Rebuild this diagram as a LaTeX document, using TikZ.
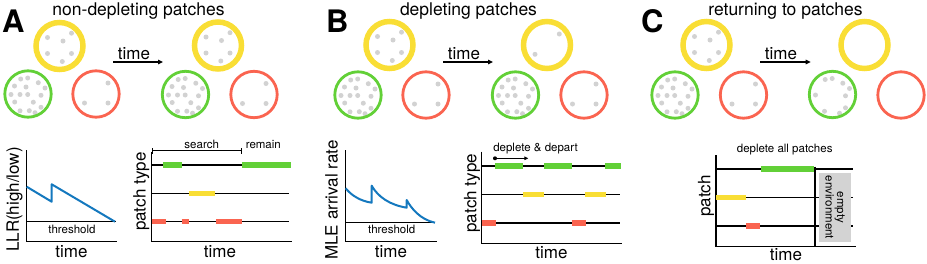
\documentclass[tikz,border=0pt]{standalone}
\usepackage{fontspec}
\setmainfont{TeX Gyre Heros}
\usetikzlibrary{arrows.meta}
\definecolor{cy}{HTML}{F9DE35}
\definecolor{cg}{HTML}{62D037}
\definecolor{cr}{HTML}{FA6450}
\definecolor{cb}{HTML}{1478BE}
\definecolor{cdot}{HTML}{D2D2D2}
\definecolor{cbox}{HTML}{D3D3D3}
\begin{document}
\begin{tikzpicture}[x=1pt,y=-1pt,
  yring/.style={circle,draw=cy,line width=5.5pt,minimum size=47pt,inner sep=0pt,outer sep=0pt},
  gring/.style={circle,draw=cg,line width=2.8pt,minimum size=46.4pt,inner sep=0pt,outer sep=0pt},
  rring/.style={circle,draw=cr,line width=2.8pt,minimum size=46.4pt,inner sep=0pt,outer sep=0pt},
  panel/.style={font=\fontsize{31}{31}\selectfont\bfseries,anchor=base west,inner sep=0pt},
  title/.style={font=\fontsize{17.5}{18}\selectfont,anchor=base,inner sep=0pt},
  tlabel/.style={font=\fontsize{17}{17}\selectfont,anchor=base,inner sep=0pt},
  rlabel/.style={font=\fontsize{17}{17}\selectfont,inner sep=0pt,rotate=90},
  small/.style={font=\fontsize{11.5}{11.5}\selectfont,anchor=base,inner sep=0pt},
  axis/.style={line width=1.5pt},
  track/.style={line width=1.1pt},
  bar/.style={line width=5.5pt},
  curve/.style={cb,line width=2pt,line join=round},
  tarrow/.style={-{Triangle[length=5pt,width=4.5pt]},line width=1.1pt},
  sarrow/.style={-{Triangle[length=4pt,width=3.5pt]},line width=1pt},
  ydots/.pic={\foreach \a/\b in {-12/-8.5,12/-12.8,3.5/-5,-12/7.5,12/7.5,2.8/15.5} \fill[cdot] (\a,\b) circle[radius=2.5pt];},
  ydotsfew/.pic={\foreach \a/\b in {12.3/-11,-12/9.3} \fill[cdot] (\a,\b) circle[radius=2.5pt];},
  gdots/.pic={\foreach \a/\b in {-7.3/-15,-0.3/-16,-13.5/-8,-2/-7,10.3/-11.3,-17/0.5,-8/0.5,-0.3/0.5,13/1.3,17/-6,-13.3/8,5.3/8.2,13/13.3,-8/16.8,1.3/16.7,7/18.7} \fill[cdot] (\a,\b) circle[radius=2.5pt];},
  gdotsfew/.pic={\foreach \a/\b in {-7.3/-15,-0.3/-16,10.3/-11.3,17/-6,-17/0.5,13/1.3,13/13.3,-8/16.8,7/18.7} \fill[cdot] (\a,\b) circle[radius=2.5pt];},
  rdots/.pic={\foreach \a/\b in {12/-11,-11.5/9,12/9} \fill[cdot] (\a,\b) circle[radius=2.5pt];}
]
\useasboundingbox (0,0) rectangle (927,263);

% ---------------- Panel A top ----------------
\node[panel] (labA) at (2,32) {A};
\node[title] (titA) at (138.5,15) {non-depleting patches};
\pic at (59.5,46) {ydots};
\node[yring] (A1y) at (59.5,46) {};
\pic at (28,94) {gdots};
\node[gring] (A1g) at (28,94) {};
\pic at (96,94) {rdots};
\node[rring] (A1r) at (96,94) {};
\node[tlabel] (timeA) at (134,59.5) {time};
\coordinate (tAs) at (113,62);
\coordinate (tAe) at (163,62);
\draw[tarrow] (tAs) -- (tAe);
\pic at (218,45.5) {ydots};
\node[yring] (A2y) at (218,45.5) {};
\pic at (185.5,94.5) {gdots};
\node[gring] (A2g) at (185.5,94.5) {};
\pic at (254,94.5) {rdots};
\node[rring] (A2r) at (254,94.5) {};

% ---------------- Panel B top ----------------
\node[panel] (labB) at (326,32) {B};
\node[title] (titB) at (468.5,15) {depleting patches};
\pic at (389.5,45) {ydots};
\node[yring] (B1y) at (389.5,45) {};
\pic at (358,95) {gdots};
\node[gring] (B1g) at (358,95) {};
\pic at (426,95) {rdots};
\node[rring] (B1r) at (426,95) {};
\node[tlabel] (timeB) at (464,59.5) {time};
\coordinate (tBs) at (443,62);
\coordinate (tBe) at (493,62);
\draw[tarrow] (tBs) -- (tBe);
\pic at (547,45) {ydotsfew};
\node[yring] (B2y) at (547,45) {};
\pic at (515.5,95) {gdots};
\node[gring] (B2g) at (515.5,95) {};
\pic at (584,95) {rdots};
\node[rring] (B2r) at (584,95) {};

% ---------------- Panel C top ----------------
\node[panel] (labC) at (641,32) {C};
\node[title] (titC) at (785.5,15) {returning to patches};
\pic at (706.5,45) {ydots};
\node[yring] (C1y) at (706.5,45) {};
\pic at (675,95) {gdots};
\node[gring] (C1g) at (675,95) {};
\pic at (743.5,95) {rdots};
\node[rring] (C1r) at (743.5,95) {};
\node[tlabel] (timeC) at (781,59.5) {time};
\coordinate (tCs) at (760,62);
\coordinate (tCe) at (810.7,62);
\draw[tarrow] (tCs) -- (tCe);
\node[yring] (C2y) at (864.5,45) {};
\pic at (832.5,94.5) {gdotsfew};
\node[gring] (C2g) at (832.5,94.5) {};
\node[rring] (C2r) at (901,95) {};

% ---------------- Panel A bottom: LLR ----------------
\draw[track] (26.7,221.7) -- (116,221.7);
\draw[axis] (26.7,150) -- (26.7,241.7) -- (116.7,241.7);
\draw[curve] (26.7,186.7) -- (51.7,201.7) -- (51.7,184.3) -- (115,221.7);
\node[small] (thrA) at (72,233) {threshold};
\node[rlabel] (llr) at (14.5,199.5) {LLR(high/low)};
\node[tlabel] (timeA1) at (71.5,257.5) {time};

% ---------------- Panel A bottom: patch type ----------------
\foreach \yy in {165,193.3,221.7} \draw[track] (151.7,\yy) -- (288.5,\yy);
\draw[axis] (151.7,152) -- (151.7,241.7) -- (291.7,241.7);
\draw[bar,cg] (163.3,165) -- (181.7,165);
\draw[bar,cg] (242.3,165) -- (290.7,165);
\draw[bar,cy] (189.3,193.3) -- (215,193.3);
\draw[bar,cr] (151.7,221.7) -- (166,221.7);
\draw[bar,cr] (181.7,221.7) -- (189.3,221.7);
\draw[bar,cr] (216,221.7) -- (241.7,221.7);
\draw[track] (152.7,148.2) -- (152.7,154);
\draw[track] (152.7,150.7) -- (241.7,150.7);
\draw[track] (241.7,148.2) -- (241.7,154);
\node[small] (search) at (201.7,148) {search};
\node[small] (remain) at (263.3,148) {remain};
\node[rlabel] (ptA) at (141.3,191.7) {patch type};
\node[tlabel] (timeA2) at (220,257.5) {time};

% ---------------- Panel B bottom: MLE ----------------
\draw[track] (345.7,222.7) -- (435,222.7);
\draw[axis] (345.7,150) -- (345.7,241.7) -- (436.7,241.7);
\draw[curve] (345.7,188.3) .. controls (351,195) and (360,201) .. (371.7,202.7)
  -- (371.7,185.7) .. controls (378,197) and (390,205) .. (406.7,207.7)
  -- (406.7,200) .. controls (411,208) and (420,219.5) .. (435,222.7);
\node[small] (thrB) at (391.7,233.3) {threshold};
\node[rlabel] (mle) at (331.5,200) {MLE arrival rate};
\node[tlabel] (timeB1) at (391,257.7) {time};

% ---------------- Panel B bottom: patch type ----------------
\foreach \yy in {166,194.7,223} \draw[track] (481.7,\yy) -- (620,\yy);
\draw[axis] (481.7,151.7) -- (481.7,243.3) -- (622.3,243.3);
\draw[bar,cg] (495,166) -- (522.7,166);
\draw[bar,cg] (544,166) -- (571.7,166);
\draw[bar,cg] (605,166) -- (620.7,166);
\draw[bar,cy] (523.3,194.7) -- (544,194.7);
\draw[bar,cy] (585,194.7) -- (606,194.7);
\draw[bar,cr] (481.7,223) -- (495.7,223);
\draw[bar,cr] (571.7,223) -- (585.7,223);
\coordinate (ddS) at (495,158.3);
\coordinate (ddE) at (528.3,158.3);
\fill (ddS) circle[radius=2pt];
\draw[sarrow] (ddS) -- (ddE);
\node[small] (dd) at (535.5,151) {deplete \& depart};
\node[rlabel] (ptB) at (472,193.3) {patch type};
\node[tlabel] (timeB2) at (551.5,258) {time};

% ---------------- Panel C bottom ----------------
\foreach \yy in {169,197.7,226} \draw[track] (716,\yy) -- (853,\yy);
\draw[axis] (716,155) -- (716,246.7) -- (856,246.7);
\draw[axis,line width=1.8pt] (815,166.7) -- (815,246.7);
\fill[cbox] (819.3,172.7) rectangle (850.7,242);
\node[font=\fontsize{11.5}{11.5}\selectfont,align=center,rotate=-90,inner sep=0pt] (empty) at (835,207.5) {empty\\environment};
\draw[bar,cg] (761,169) -- (814,169);
\draw[bar,cy] (716,197.7) -- (745.7,197.7);
\draw[bar,cr] (746,226) -- (760,226);
\node[small] (dap) at (784.7,152.5) {deplete all patches};
\node[rlabel] (patchC) at (706,196) {patch};
\node[tlabel] (timeC1) at (786,260.5) {time};
\end{tikzpicture}
\end{document}
